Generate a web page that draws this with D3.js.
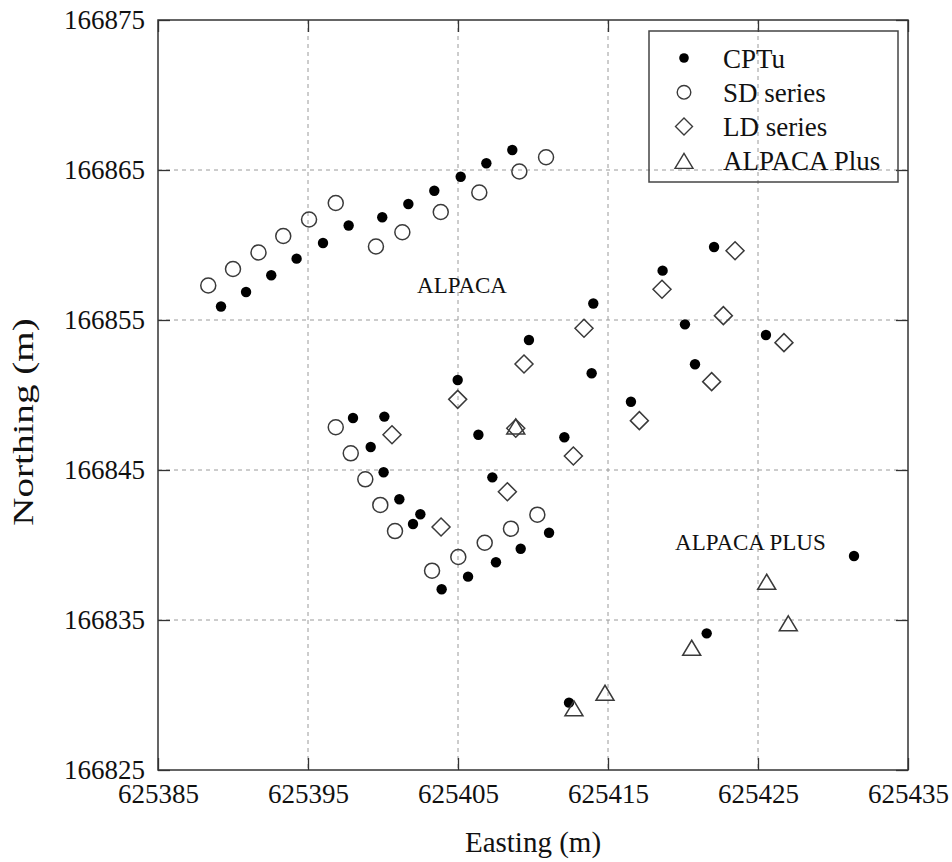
<!DOCTYPE html>
<html>
<head>
<meta charset="utf-8">
<script src="https://cdn.jsdelivr.net/npm/d3@7"></script>
<style>
  html, body { margin: 0; padding: 0; background: #fff; }
  svg { display: block; font-family: "Liberation Serif", "Times New Roman", serif; }
</style>
</head>
<body>
<svg id="chart" width="952" height="862"></svg>
<script>
// Survey locations (Easting, Northing in metres)
const cptuE = [625389.2, 625390.87, 625392.55, 625394.24, 625396.0, 625397.71, 625399.95, 625401.69,
  625403.42, 625405.18, 625406.89, 625408.62, 625414.02, 625418.64, 625422.07, 625420.13, 625425.53,
  625409.73, 625413.91, 625420.8, 625416.53, 625406.36, 625412.09, 625407.29, 625411.07, 625409.18,
  625407.53, 625431.4, 625421.58, 625412.4, 625404.98, 625398.0, 625400.09, 625399.18, 625400.04,
  625401.09, 625402.49, 625402.0, 625405.67, 625403.91];
const cptuN = [166855.9, 166856.87, 166857.98, 166859.09, 166860.13, 166861.3, 166861.85, 166862.73,
  166863.62, 166864.55, 166865.45, 166866.33, 166856.1, 166858.29, 166859.87, 166854.71, 166854.0,
  166853.67, 166851.45, 166852.05, 166849.55, 166847.35, 166847.18, 166844.51, 166840.82, 166839.75,
  166838.85, 166839.27, 166834.11, 166829.49, 166851.0, 166848.47, 166848.56, 166846.53, 166844.85,
  166843.05, 166842.05, 166841.4, 166837.89, 166837.05];

const sdE = [625388.35, 625390.0, 625391.7, 625393.35, 625395.07, 625396.85, 625399.53, 625401.29,
  625403.85, 625406.42, 625409.09, 625410.87, 625396.85, 625397.85, 625398.82, 625399.82, 625400.8,
  625403.27, 625405.02, 625406.78, 625408.53, 625410.29];
const sdN = [166857.3, 166858.4, 166859.5, 166860.6, 166861.7, 166862.8, 166859.9, 166860.85,
  166862.2, 166863.5, 166864.9, 166865.85, 166847.85, 166846.11, 166844.38, 166842.67, 166840.93,
  166838.29, 166839.2, 166840.15, 166841.09, 166842.02];

const ldE = [625423.47, 625418.6, 625422.69, 625413.4, 625426.73, 625409.4, 625421.91, 625417.09,
  625408.85, 625412.69, 625408.29, 625404.98, 625400.6, 625403.87];
const ldN = [166859.62, 166857.05, 166855.29, 166854.45, 166853.49, 166852.07, 166850.89, 166848.29,
  166847.78, 166845.93, 166843.55, 166849.71, 166847.35, 166841.2];

const plusE = [625408.85, 625425.58, 625427.02, 625420.58, 625414.8, 625412.73];
const plusN = [166847.9, 166837.55, 166834.78, 166833.15, 166830.15, 166829.11];

const xTicks = [625385, 625395, 625405, 625415, 625425, 625435];
const yTicks = [166825, 166835, 166845, 166855, 166865, 166875];

const seriesNames = ["CPTu", "SD series", "LD series", "ALPACA Plus"];
const siteLabels = [
  { text: "ALPACA", e: 625402.27, n: 166856.8 },
  { text: "ALPACA PLUS", e: 625419.47, n: 166839.67 }
];

// Layout
const margin = { left: 158, top: 20, right: 44, bottom: 92 };
const W = 952, H = 862;
const pw = W - margin.left - margin.right;   // 750
const ph = H - margin.top - margin.bottom;   // 750

const svg = d3.select("#chart");
svg.append("rect").attr("width", W).attr("height", H).attr("fill", "#fff");

const x = d3.scaleLinear().domain([625385, 625435]).range([0, pw]);
const y = d3.scaleLinear().domain([166825, 166875]).range([ph, 0]);

const g = svg.append("g").attr("transform", `translate(${margin.left},${margin.top})`);

// Dashed grid
const grid = g.append("g").attr("stroke", "#9a9a9a").attr("stroke-width", 1)
  .attr("stroke-dasharray", "4,4").attr("fill", "none");
grid.selectAll("line.v").data(xTicks.slice(1, -1)).join("line")
  .attr("x1", d => x(d)).attr("x2", d => x(d)).attr("y1", 0).attr("y2", ph);
grid.selectAll("line.h").data(yTicks.slice(1, -1)).join("line")
  .attr("y1", d => y(d)).attr("y2", d => y(d)).attr("x1", 0).attr("x2", pw);

// Axes with inward ticks on all four sides
const fmt = d3.format("d");
const styleAxis = sel => {
  sel.select(".domain").remove();
  sel.selectAll(".tick line").attr("stroke", "#333").attr("stroke-width", 1.3);
  sel.selectAll(".tick text").attr("fill", "#111").attr("font-size", 27)
    .attr("font-family", "Liberation Serif, Times New Roman, serif");
};
g.append("g").attr("transform", `translate(0,${ph})`)
  .call(d3.axisBottom(x).tickValues(xTicks).tickFormat(fmt).tickSizeInner(-12).tickSizeOuter(0).tickPadding(14))
  .call(styleAxis);
g.append("g")
  .call(d3.axisLeft(y).tickValues(yTicks).tickFormat(fmt).tickSizeInner(-12).tickSizeOuter(0).tickPadding(13))
  .call(styleAxis);
g.append("g")
  .call(d3.axisTop(x).tickValues(xTicks).tickFormat("").tickSizeInner(-12).tickSizeOuter(0))
  .call(styleAxis);
g.append("g").attr("transform", `translate(${pw},0)`)
  .call(d3.axisRight(y).tickValues(yTicks).tickFormat("").tickSizeInner(-12).tickSizeOuter(0))
  .call(styleAxis);

// Plot frame
g.append("rect").attr("width", pw).attr("height", ph)
  .attr("fill", "none").attr("stroke", "#333").attr("stroke-width", 1.5);

// Marker shapes
const triPath = (w, h) => `M0,${-h / 2}L${w / 2},${h / 2}L${-w / 2},${h / 2}Z`;
const diaPath = r => `M0,${-r}L${r},0L0,${r}L${-r},0Z`;
const markStroke = "#3a3a3a";

const drawSeries = (E, N, draw) => {
  const pts = E.map((e, i) => ({ e, n: N[i] }));
  const sel = g.append("g").selectAll("g").data(pts).join("g")
    .attr("transform", d => `translate(${x(d.e)},${y(d.n)})`);
  draw(sel);
};

drawSeries(cptuE, cptuN, s => s.append("circle").attr("r", 5.2).attr("fill", "#000"));
drawSeries(sdE, sdN, s => s.append("circle").attr("r", 7.5)
  .attr("fill", "none").attr("stroke", markStroke).attr("stroke-width", 1.5));
drawSeries(ldE, ldN, s => s.append("path").attr("d", diaPath(9))
  .attr("fill", "none").attr("stroke", markStroke).attr("stroke-width", 1.5));
drawSeries(plusE, plusN, s => s.append("path").attr("d", triPath(18, 15))
  .attr("fill", "none").attr("stroke", markStroke).attr("stroke-width", 1.5));

// Site labels
g.selectAll("text.site").data(siteLabels).join("text").attr("class", "site")
  .attr("x", d => x(d.e)).attr("y", d => y(d.n))
  .attr("font-size", 23).attr("fill", "#111").text(d => d.text);

// Legend
const lg = svg.append("g").attr("transform", "translate(649,31)");
lg.append("rect").attr("width", 249).attr("height", 151)
  .attr("fill", "none").attr("stroke", "#444").attr("stroke-width", 1.5);
const rows = lg.selectAll("g.row").data(seriesNames).join("g").attr("class", "row")
  .attr("transform", (d, i) => `translate(35,${27 + i * 34.3})`);
rows.each(function (d, i) {
  const r = d3.select(this);
  if (i === 0) r.append("circle").attr("r", 4.8).attr("fill", "#000");
  if (i === 1) r.append("circle").attr("r", 6.8).attr("fill", "none").attr("stroke", markStroke).attr("stroke-width", 1.4);
  if (i === 2) r.append("path").attr("d", diaPath(8.5)).attr("fill", "none").attr("stroke", markStroke).attr("stroke-width", 1.4);
  if (i === 3) r.append("path").attr("d", triPath(18, 15)).attr("fill", "none").attr("stroke", markStroke).attr("stroke-width", 1.4);
});
rows.append("text").attr("x", 39).attr("y", 9.5).attr("font-size", 27).attr("fill", "#111").text(d => d);

// Axis titles
svg.append("text").attr("x", margin.left + pw / 2).attr("y", 852)
  .attr("text-anchor", "middle").attr("font-size", 29).attr("fill", "#111").text("Easting (m)");
// vertical title is drawn elongated along its reading direction
svg.append("text").attr("transform", "translate(33,422) rotate(-90) scale(1.35,1)")
  .attr("text-anchor", "middle").attr("font-size", 29).attr("fill", "#111").text("Northing (m)");
</script>
</body>
</html>
